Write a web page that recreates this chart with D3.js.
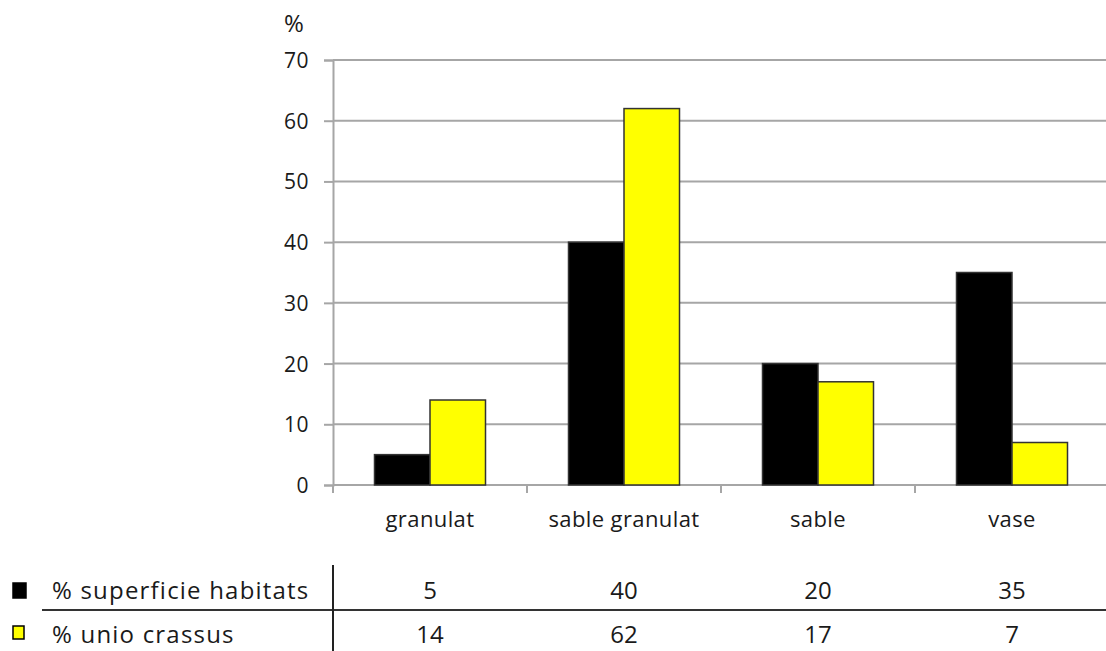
<!DOCTYPE html>
<html>
<head>
<meta charset="utf-8">
<script src="https://cdn.jsdelivr.net/npm/d3@7"></script>
<style>
  html, body { margin: 0; padding: 0; background: #fff; }
  svg { display: block; }
  text { font-family: "Open Sans", sans-serif; fill: #1a1a1a; }
</style>
</head>
<body>
<svg id="chart" width="1106" height="651"></svg>
<script>
// Habitat types along the river bed
const categories = ["granulat", "sable granulat", "sable", "vase"];
// Share of the surveyed area per habitat
const superficieHabitats = [5, 40, 20, 35];
// Share of Unio crassus found per habitat
const unioCrassus = [14, 62, 17, 7];
const yTicks = [0, 10, 20, 30, 40, 50, 60, 70];

const seriesNames = ["% superficie habitats", "% unio crassus"];
const seriesColors = ["#000000", "#ffff00"];
const series = [superficieHabitats, unioCrassus];

const svg = d3.select("#chart");
const plot = { left: 333, right: 1109, top: 60, bottom: 485 };

const x = d3.scaleBand().domain(categories).range([plot.left, plot.right]).paddingInner(0).paddingOuter(0);
const xInner = d3.scaleBand().domain([0, 1]).range([0, 111]);
const y = d3.scaleLinear().domain([0, 70]).range([plot.bottom, plot.top]);

// horizontal gridlines
svg.append("g").selectAll("line").data(yTicks).join("line")
  .attr("x1", plot.left).attr("x2", plot.right)
  .attr("y1", d => y(d)).attr("y2", d => y(d))
  .attr("stroke", "#a6a6a6").attr("stroke-width", 2);

// y axis
const yAxis = d3.axisLeft(y).tickValues(yTicks).tickSize(9).tickPadding(15);
const gy = svg.append("g").attr("transform", `translate(${plot.left},0)`).call(yAxis);
gy.select(".domain").attr("stroke", "#a6a6a6").attr("stroke-width", 2);
gy.selectAll(".tick line").attr("stroke", "#a6a6a6").attr("stroke-width", 2);
gy.selectAll(".tick text").style("font-size", "21px").style("letter-spacing", "0.5px")
  .attr("fill", "#1a1a1a").attr("font-family", "Open Sans").attr("dy", "0.36em");

svg.append("text").attr("x", 294).attr("y", 32).attr("text-anchor", "middle")
  .style("font-size", "24px").text("%");

// x axis line with category boundaries
svg.append("line").attr("x1", plot.left).attr("x2", plot.right)
  .attr("y1", plot.bottom).attr("y2", plot.bottom)
  .attr("stroke", "#a6a6a6").attr("stroke-width", 2);
const boundaries = categories.map(c => x(c));
svg.append("g").selectAll("line").data(boundaries).join("line")
  .attr("x1", d => d).attr("x2", d => d)
  .attr("y1", plot.bottom).attr("y2", plot.bottom + 8)
  .attr("stroke", "#a6a6a6").attr("stroke-width", 2);

svg.append("g").selectAll("text").data(categories).join("text")
  .attr("x", d => x(d) + x.bandwidth() / 2)
  .attr("y", 527)
  .attr("text-anchor", "middle")
  .style("font-size", "22px")
  .style("letter-spacing", "0.4px")
  .text(d => d);

// bars
const groups = svg.append("g").selectAll("g").data(categories).join("g")
  .attr("transform", d => `translate(${x(d) + x.bandwidth() / 2 - 55.5},0)`);
groups.selectAll("rect").data((c, i) => series.map((s, k) => ({ k, v: s[i] }))).join("rect")
  .attr("x", d => xInner(d.k))
  .attr("width", xInner.bandwidth())
  .attr("y", d => y(d.v))
  .attr("height", d => plot.bottom - y(d.v))
  .attr("fill", d => seriesColors[d.k])
  .attr("stroke", "#333")
  .attr("stroke-width", 1.5);

// data table below the chart
const rowBase = [599, 643];
const swatch = [{ y: 583, w: 13, h: 15 }, { y: 626, w: 11, h: 13 }];
svg.append("line").attr("x1", 42).attr("x2", 1106).attr("y1", 610).attr("y2", 610)
  .attr("stroke", "#333").attr("stroke-width", 2);
svg.append("line").attr("x1", plot.left).attr("x2", plot.left).attr("y1", 565).attr("y2", 651)
  .attr("stroke", "#222").attr("stroke-width", 2);

seriesNames.forEach((name, k) => {
  svg.append("rect").attr("x", 13).attr("y", swatch[k].y).attr("width", swatch[k].w).attr("height", swatch[k].h)
    .attr("fill", seriesColors[k]).attr("stroke", "#000").attr("stroke-width", 1.5);
  svg.append("text").attr("x", 52).attr("y", rowBase[k])
    .style("font-size", "24px").style("letter-spacing", "1.2px").text(name);
  svg.append("g").selectAll("text").data(series[k]).join("text")
    .attr("x", (d, i) => x(categories[i]) + x.bandwidth() / 2)
    .attr("y", rowBase[k])
    .attr("text-anchor", "middle")
    .style("font-size", "24px")
    .text(d => d);
});
</script>
</body>
</html>
